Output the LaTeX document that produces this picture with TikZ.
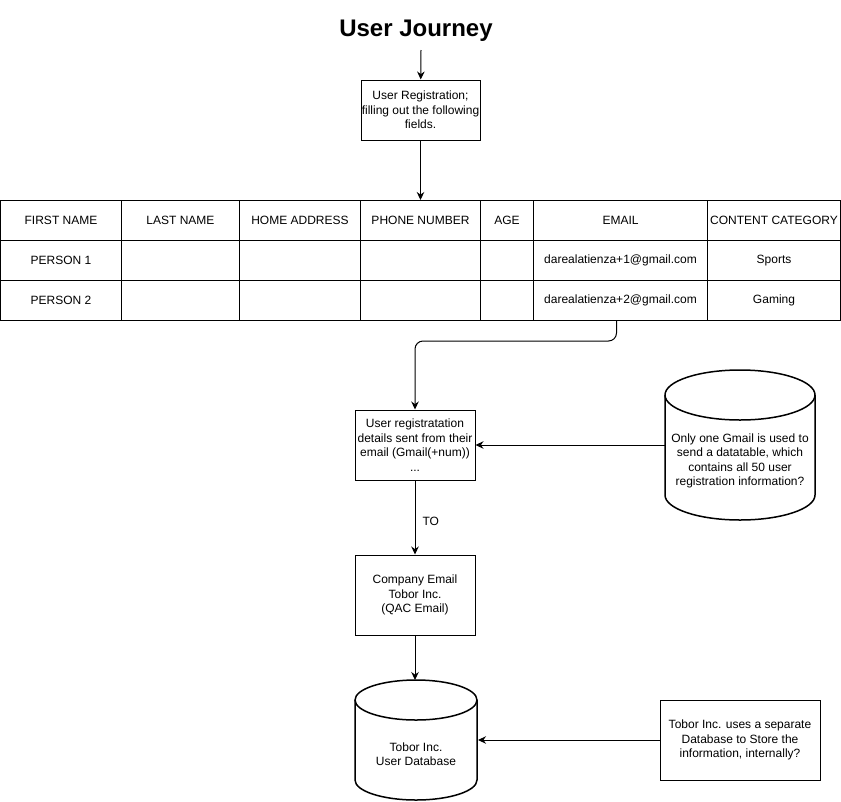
\documentclass[tikz,border=0pt]{standalone}
\usepackage{fontspec}
\setmainfont{Liberation Sans}
\usetikzlibrary{arrows.meta}
\begin{document}
\begin{tikzpicture}[x=1pt,y=-1pt,
  txt/.style={font=\fontsize{12}{14.5}\selectfont, align=center, inner sep=0pt},
  box/.style={txt, draw, line width=1pt},
  cell/.style={txt, draw, line width=1pt, anchor=north west, minimum height=40pt},
  arr/.style={-{Stealth[length=8pt,width=7.5pt]}, line width=1pt},
  cyl/.style={line width=1.5pt}]
\useasboundingbox (0,0) rectangle (841,801);
% title
\node[font=\fontsize{24}{28}\selectfont\bfseries, inner sep=0pt] (title) at (416,30.5) {User Journey};
\coordinate (t0) at (421,50);
\node[box, minimum width=119pt, minimum height=60pt] (reg) at (420.5,110) {User Registration;\\filling out the following\\fields.};
\draw[arr] (t0) -- (reg);
% table header
\node[cell, minimum width=121pt] (h1) at (0,200) {FIRST NAME};
\node[cell, minimum width=118pt] (h2) at (121,200) {LAST NAME};
\node[cell, minimum width=121pt] (h3) at (239,200) {HOME ADDRESS};
\node[cell, minimum width=120pt] (h4) at (360,200) {PHONE NUMBER};
\node[cell, minimum width=53pt] (h5) at (480,200) {AGE};
\node[cell, minimum width=174pt] (h6) at (533,200) {EMAIL};
\node[cell, minimum width=133pt] (h7) at (707,200) {CONTENT CATEGORY};
% row 1
\node[cell, minimum width=121pt] (a1) at (0,240) {PERSON 1};
\node[cell, minimum width=118pt] (a2) at (121,240) {};
\node[cell, minimum width=121pt] (a3) at (239,240) {};
\node[cell, minimum width=120pt] (a4) at (360,240) {};
\node[cell, minimum width=53pt] (a5) at (480,240) {};
\node[cell, minimum width=174pt] (a6) at (533,240) {darealatienza+1@gmail.com};
\node[cell, minimum width=133pt] (a7) at (707,240) {Sports};
% row 2
\node[cell, minimum width=121pt] (b1) at (0,280) {PERSON 2};
\node[cell, minimum width=118pt] (b2) at (121,280) {};
\node[cell, minimum width=121pt] (b3) at (239,280) {};
\node[cell, minimum width=120pt] (b4) at (360,280) {};
\node[cell, minimum width=53pt] (b5) at (480,280) {};
\node[cell, minimum width=174pt] (b6) at (533,280) {darealatienza+2@gmail.com};
\node[cell, minimum width=133pt] (b7) at (707,280) {Gaming};
\draw[arr] (reg) -- (h4.north);
% sent box
\node[box, minimum width=120pt, minimum height=70pt] (sent) at (415,445) {User registratation\\details sent from their\\email (Gmail(+num))\\...};
\draw[arr, rounded corners=8pt] ([xshift=-4pt]b6.south) -- ++(0,20) -| (sent.north);
% cylinder 1
\draw[cyl] (665,395) -- (665,495) arc[start angle=180,end angle=360,x radius=75pt,y radius=25pt]
  -- (815,395) arc[start angle=0,end angle=180,x radius=75pt,y radius=25pt] -- cycle;
\draw[cyl] (665,395) arc[start angle=180,end angle=360,x radius=75pt,y radius=25pt];
\node[txt] (gmail) at (740,461) {Only one Gmail is used to\\send a datatable, which\\contains all 50 user\\registration information?};
\coordinate (c1w) at (665,445);
\draw[arr] (c1w) -- (sent.east);
% company box
\node[box, minimum width=120pt, minimum height=80pt] (comp) at (415,595) {Company Email\\Tobor Inc.\\(QAC Email)};
\draw[arr] (sent) -- node[txt, pos=0.55, anchor=west, xshift=7pt] {TO} (comp);
% cylinder 2
\draw[cyl] (355,700) -- (355,780) arc[start angle=180,end angle=360,x radius=61pt,y radius=20pt]
  -- (477,700) arc[start angle=0,end angle=180,x radius=61pt,y radius=20pt] -- cycle;
\draw[cyl] (355,700) arc[start angle=180,end angle=360,x radius=61pt,y radius=20pt];
\node[txt] (db) at (416,754) {Tobor Inc.\\User Database};
\coordinate (c2t) at (415,680);
\coordinate (c2e) at (478,740);
\draw[arr] (comp) -- (c2t);
% right box
\node[box, minimum width=160pt, minimum height=80pt] (sep) at (740,740) {Tobor Inc. uses a separate\\Database to Store the\\information, internally?};
\draw[arr] (sep) -- (c2e);
\end{tikzpicture}
\end{document}
